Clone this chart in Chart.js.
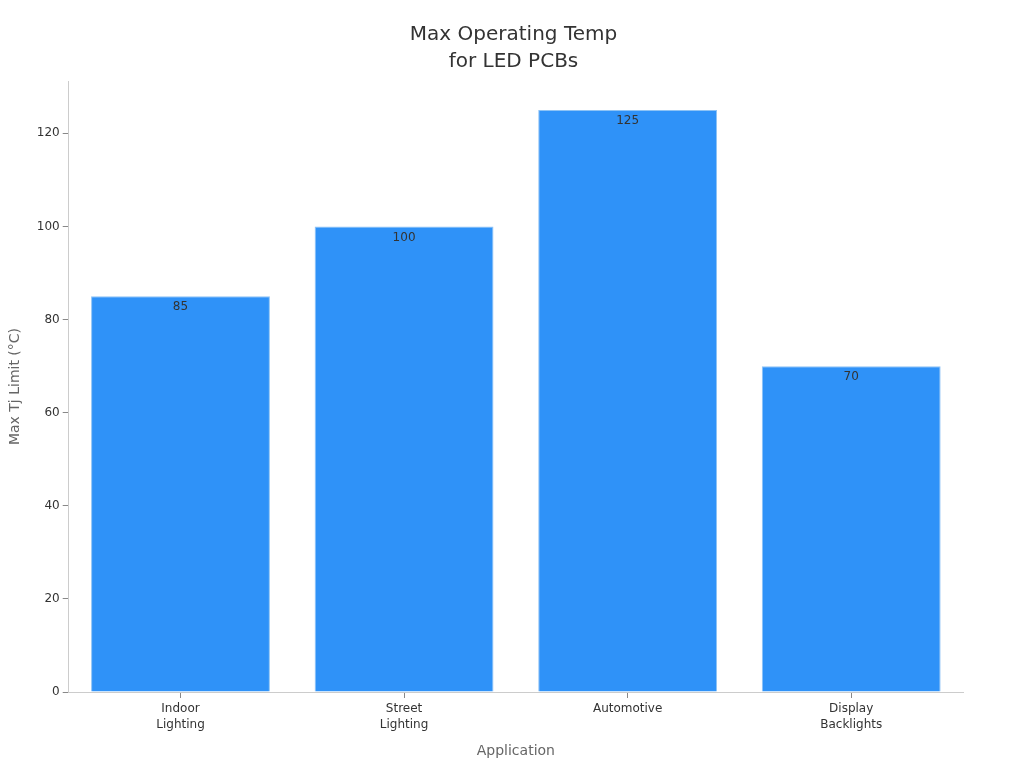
<!DOCTYPE html>
<html><head><meta charset="utf-8">
<script src="https://cdn.jsdelivr.net/npm/chart.js@4"></script>
<style>html,body{margin:0;padding:0;background:#fff}#wrap{width:1024px;height:768px}</style>
</head><body><div id="wrap"><canvas id="c" width="1024" height="768"></canvas></div>
<script>
const categories = [["Indoor","Lighting"],["Street","Lighting"],"Automotive",["Display","Backlights"]];
const values = [85, 100, 125, 70];
const valueLabels = ["85","100","125","70"];
const titleLines = ["Max Operating Temp","for LED PCBs"];
const yTitle = "Max Tj Limit (°C)";
const xTitle = "Application";

const barLabels = {
  id:'barLabels',
  afterDatasetsDraw(chart){
    const ctx = chart.ctx;
    const meta = chart.getDatasetMeta(0);
    ctx.save();
    ctx.font = '12px "DejaVu Sans"';
    ctx.fillStyle = '#333';
    ctx.textAlign = 'center';
    ctx.textBaseline = 'top';
    meta.data.forEach((bar,i)=>{ ctx.fillText(valueLabels[i], bar.x, bar.y + 5); });
    ctx.restore();
  }
};

new Chart(document.getElementById('c'), {
  type:'bar',
  data:{labels:categories, datasets:[{data:values, backgroundColor:'#2F92F8', borderColor:'#8EC3F5', borderWidth:1, barPercentage:0.8, categoryPercentage:1.0}]},
  options:{
    responsive:false, animation:false,
    layout:{padding:{left:3,right:0,top:0,bottom:4}},
    plugins:{
      legend:{display:false}, tooltip:{enabled:false},
      title:{display:true, text:titleLines, color:'#333', font:{family:'DejaVu Sans', size:20, weight:'normal', lineHeight:1.35}, padding:{top:21,bottom:6}}
    },
    scales:{
      x:{
        grid:{display:true, offset:false, drawOnChartArea:false, drawTicks:true, tickLength:6, color:'#888'},
        border:{color:'#ccc'},
        ticks:{color:'#333', font:{family:'DejaVu Sans', size:12, lineHeight:1.3}, padding:3},
        title:{display:true, text:xTitle, color:'#666', font:{family:'DejaVu Sans', size:14}, padding:{top:8}}
      },
      y:{
        min:0, max:131.25,
        afterBuildTicks(axis){ axis.ticks = [0,20,40,60,80,100,120].map(v=>({value:v})); },
        grid:{display:true, drawOnChartArea:false, drawTicks:true, tickLength:6, color:'#888'},
        border:{color:'#ccc'},
        ticks:{color:'#333', font:{family:'DejaVu Sans', size:12}, padding:3},
        title:{display:true, text:yTitle, color:'#666', font:{family:'DejaVu Sans', size:14}, padding:{bottom:10}}
      },
      rightSpace:{
        type:'linear', position:'right', display:true,
        grid:{display:false}, border:{display:false}, ticks:{display:false},
        afterFit(axis){ axis.width = 61; }
      }
    }
  },
  plugins:[barLabels]
});
</script></body></html>
